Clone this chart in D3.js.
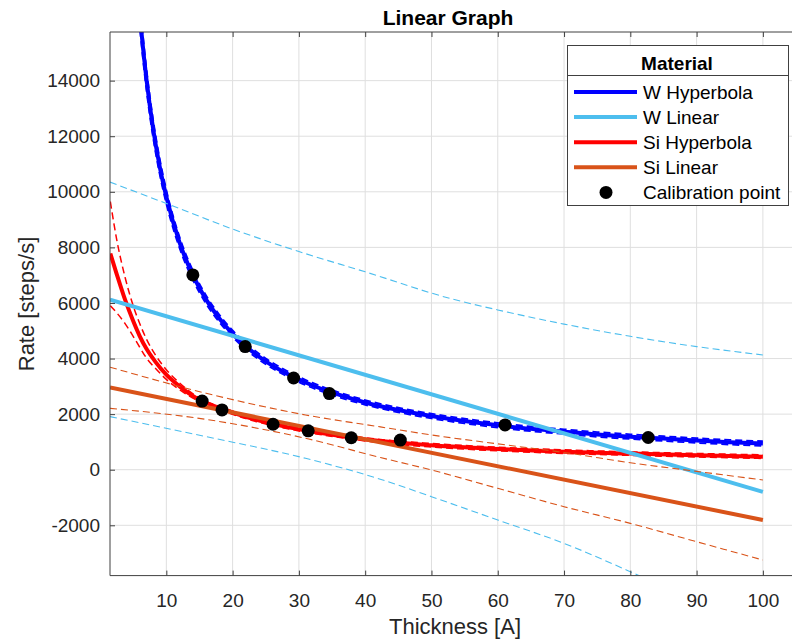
<!DOCTYPE html>
<html>
<head>
<meta charset="utf-8">
<script src="https://cdn.jsdelivr.net/npm/d3@7"></script>
<style>
  body { margin: 0; background: #fff; }
  text { font-family: "Liberation Sans", Arial, Helvetica, sans-serif; fill: #262626; }
</style>
</head>
<body>
<svg id="chart" width="792" height="644"></svg>
<script>
// ---- data ----
const xTicks = [10, 20, 30, 40, 50, 60, 70, 80, 90, 100];
const yTicks = [-2000, 0, 2000, 4000, 6000, 8000, 10000, 12000, 14000];

const legendNames = ['W Hyperbola', 'W Linear', 'Si Hyperbola', 'Si Linear', 'Calibration point'];
const seriesColors = ['#0000ff', '#4dbeee', '#ff0000', '#d95319'];

// W hyperbola fit + bounds
const wHypX  = [5.9, 6.2, 7, 8, 9, 10, 12, 14, 16, 18, 20, 22, 25, 28, 32, 36, 40, 45, 50, 55, 60, 65, 70, 75, 80, 85, 90, 95, 100];
const wHypY  = [16670, 15860, 14050, 12280, 10910, 9820, 8170, 7000, 6120, 5440, 4890, 4440, 3900, 3480, 3040, 2700, 2420, 2150, 1930, 1750, 1600, 1470, 1370, 1270, 1190, 1120, 1050, 990, 940];
const wHypHi = [17130, 16300, 14440, 12610, 11195, 10070, 8370, 7170, 6270, 5575, 5010, 4552, 4005, 3578, 3132, 2788, 2505, 2235, 2015, 1835, 1685, 1555, 1455, 1355, 1275, 1205, 1135, 1075, 1025];
const wHypLo = [16210, 15420, 13660, 11950, 10625, 9570, 7970, 6830, 5970, 5305, 4770, 4328, 3795, 3382, 2948, 2612, 2335, 2065, 1845, 1665, 1515, 1385, 1285, 1185, 1105, 1035, 965, 905, 855];

// W linear fit + bounds
const wLinX = [1.5, 100];
const wLinY = [6120, -800];
const wLinHiX = [1.5, 10, 20, 30, 40, 53, 60, 70, 80, 90, 100];
const wLinHi  = [10350, 9580, 8660, 7850, 7120, 6150, 5750, 5240, 4800, 4430, 4130];
const wLinLoX = [1.5, 16, 31, 42.4, 50, 60, 70, 80, 84];
const wLinLo  = [1910, 1190, 410, -350, -970, -1810, -2650, -3670, -4100];

// Si hyperbola fit + bounds
const siHypX = [1.55, 2.5, 3.8, 5, 6, 7, 8.3, 10, 12, 13.4, 15.4, 18.4, 22, 26, 31.3, 37.6, 42.3, 50, 60, 70, 80, 90, 100];
const siHypY = [7780, 7050, 6100, 5350, 4800, 4350, 3900, 3420, 3000, 2750, 2470, 2190, 1900, 1650, 1400, 1170, 1030, 880, 745, 650, 580, 520, 470];
const siHypHi = [9650, 8300, 6900, 5900, 5250, 4700, 4150, 3600, 3120, 2840, 2530, 2250, 1960, 1710, 1460, 1230, 1090, 945, 810, 715, 645, 585, 535];
const siHypLo = [5900, 5650, 5250, 4800, 4400, 4020, 3660, 3250, 2880, 2660, 2410, 2130, 1840, 1590, 1340, 1110, 970, 815, 680, 585, 515, 455, 405];

// Si linear fit + bounds
const siLinX = [1.5, 100];
const siLinY = [2960, -1810];
const siLinBandX = [1.5, 16, 31, 42.3, 50, 60, 70, 80, 90, 100];
const siLinHi = [3690, 2750, 1970, 1540, 1250, 930, 620, 250, -60, -370];
const siLinLo = [2210, 1810, 1130, 440, -10, -670, -1330, -1930, -2590, -3250];

// calibration points
const calX = [14, 21.9, 29.2, 34.6, 61.1, 82.7, 15.4, 18.4, 26.1, 31.4, 37.9, 45.3];
const calY = [7010, 4430, 3300, 2740, 1610, 1160, 2470, 2150, 1635, 1400, 1150, 1065];

// ---- layout ----
const svg = d3.select('#chart');
const plot = {left: 110, right: 800, top: 32, bottom: 575.6};

const x = d3.scaleLinear().domain([1.5, 105.6]).range([plot.left, plot.right]);
const y = d3.scaleLinear().domain([-3810, 15750]).range([plot.bottom, plot.top]);

const zip = (xs, ys) => xs.map((d, i) => [d, ys[i]]);
const line = d3.line().x(d => x(d[0])).y(d => y(d[1])).curve(d3.curveMonotoneX);

svg.append('rect').attr('width', 792).attr('height', 644).attr('fill', '#fff');

svg.append('clipPath').attr('id', 'clip')
    .append('rect')
    .attr('x', plot.left).attr('y', plot.top)
    .attr('width', plot.right - plot.left).attr('height', plot.bottom - plot.top);

// grid
const grid = svg.append('g').attr('stroke', '#dfdfdf').attr('stroke-width', 1);
grid.selectAll('line.gx').data(xTicks).join('line')
    .attr('x1', d => x(d)).attr('x2', d => x(d))
    .attr('y1', plot.top).attr('y2', plot.bottom);
grid.selectAll('line.gy').data(yTicks).join('line')
    .attr('x1', plot.left).attr('x2', plot.right)
    .attr('y1', d => y(d)).attr('y2', d => y(d));

// curves
const curves = svg.append('g').attr('clip-path', 'url(#clip)').attr('fill', 'none');

function drawFit(main, bands, color, bandWidth) {
    bands.forEach(b => {
        curves.append('path').datum(b)
            .attr('d', line)
            .attr('stroke', color)
            .attr('stroke-width', bandWidth)
            .attr('stroke-dasharray', '7,4');
    });
    curves.append('path').datum(main)
        .attr('d', line)
        .attr('stroke', color)
        .attr('stroke-width', 4);
}

drawFit(zip(wHypX, wHypY), [zip(wHypX, wHypHi), zip(wHypX, wHypLo)], seriesColors[0], 1.8);
drawFit(zip(siHypX, siHypY), [zip(siHypX, siHypHi), zip(siHypX, siHypLo)], seriesColors[2], 1.5);
drawFit(zip(wLinX, wLinY), [zip(wLinHiX, wLinHi), zip(wLinLoX, wLinLo)], seriesColors[1], 1.1);
drawFit(zip(siLinX, siLinY), [zip(siLinBandX, siLinHi), zip(siLinBandX, siLinLo)], seriesColors[3], 1.1);

curves.selectAll('circle').data(zip(calX, calY)).join('circle')
    .attr('cx', d => x(d[0])).attr('cy', d => y(d[1]))
    .attr('r', 6.5).attr('fill', '#000');

// axes
const axisColor = '#404040';
const yAxis = svg.append('g')
    .attr('transform', `translate(${plot.left},0)`)
    .call(d3.axisLeft(y).tickValues(yTicks).tickFormat(d => String(d))
        .tickSizeInner(-5).tickSizeOuter(0).tickPadding(10));
const xAxis = svg.append('g')
    .attr('transform', `translate(0,${plot.bottom})`)
    .call(d3.axisBottom(x).tickValues(xTicks).tickFormat(d => String(d))
        .tickSizeInner(-5).tickSizeOuter(0).tickPadding(18));
const xTop = svg.append('g')
    .attr('transform', `translate(0,${plot.top})`)
    .call(d3.axisTop(x).tickValues(xTicks).tickSizeInner(-5).tickSizeOuter(0).tickFormat(''));

[yAxis, xAxis, xTop].forEach(g => {
    g.select('.domain').remove();
    g.selectAll('.tick line').attr('stroke', axisColor);
    g.selectAll('.tick text')
        .attr('font-family', '"Liberation Sans", Arial, sans-serif')
        .attr('font-size', 19).attr('fill', '#262626');
});

// frame
svg.append('path')
    .attr('d', `M${plot.right},${plot.top}H${plot.left}V${plot.bottom}H${plot.right}`)
    .attr('fill', 'none').attr('stroke', axisColor).attr('stroke-width', 1);

// titles
svg.append('text')
    .attr('x', 448).attr('y', 25)
    .attr('text-anchor', 'middle')
    .attr('font-size', 21).attr('font-weight', 'bold')
    .style('fill', '#000')
    .text('Linear Graph');

svg.append('text')
    .attr('x', 455).attr('y', 634)
    .attr('text-anchor', 'middle')
    .attr('font-size', 22)
    .text('Thickness [A]');

svg.append('text')
    .attr('transform', 'translate(34,304) rotate(-90)')
    .attr('text-anchor', 'middle')
    .attr('font-size', 22)
    .text('Rate [steps/s]');

// legend
const lg = svg.append('g');
lg.append('rect')
    .attr('x', 567.5).attr('y', 45.5).attr('width', 221).attr('height', 160)
    .attr('fill', '#fff').attr('stroke', axisColor);
lg.append('line')
    .attr('x1', 567.5).attr('x2', 788.5).attr('y1', 75.5).attr('y2', 75.5)
    .attr('stroke', axisColor);
lg.append('text')
    .attr('x', 677).attr('y', 69.5)
    .attr('text-anchor', 'middle')
    .attr('font-size', 19).attr('font-weight', 'bold')
    .style('fill', '#000')
    .text('Material');

const items = lg.selectAll('g.item').data(legendNames).join('g')
    .attr('class', 'item')
    .attr('transform', (d, i) => `translate(0,${92 + i * 25.1})`);

items.filter((d, i) => i < 4).append('line')
    .attr('x1', 574).attr('x2', 637).attr('y1', 0).attr('y2', 0)
    .attr('stroke', (d, i) => seriesColors[i]).attr('stroke-width', 4);
items.filter((d, i) => i === 4).append('circle')
    .attr('cx', 606).attr('cy', 0).attr('r', 6.5).attr('fill', '#000');
items.append('text')
    .attr('x', 643).attr('y', 6.8)
    .attr('font-size', 19)
    .style('fill', '#000')
    .text(d => d);
</script>
</body>
</html>
